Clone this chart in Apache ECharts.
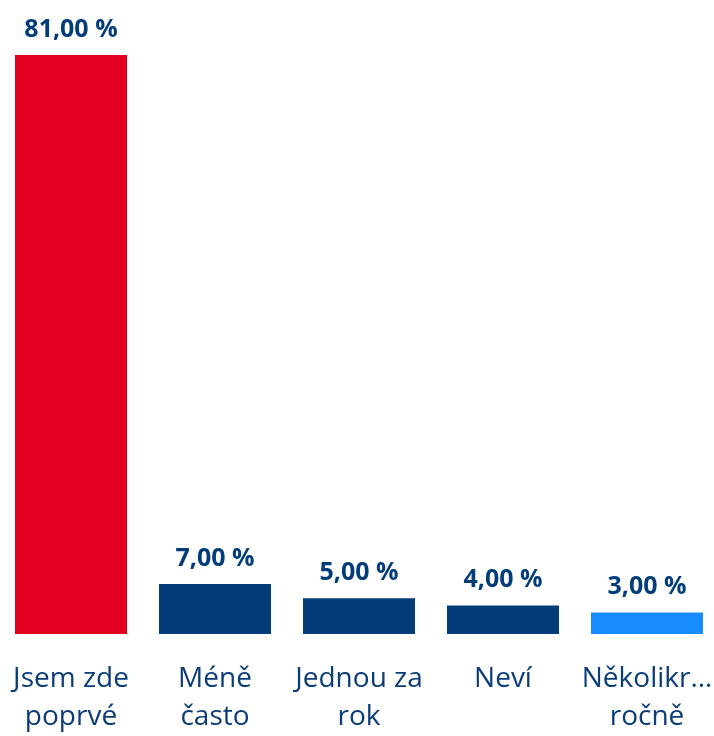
<!DOCTYPE html>
<html>
<head>
<meta charset="utf-8">
<script src="https://cdn.jsdelivr.net/npm/echarts@6/dist/echarts.min.js"></script>
<style>
  html, body { margin: 0; padding: 0; background: #fff; overflow: hidden; }
  #chart { width: 720px; height: 736px; margin-left: -1px; }
</style>
</head>
<body>
<div id="chart"></div>
<script>
const categories = ['Jsem zde\npoprvé', 'Méně\nčasto', 'Jednou za\nrok', 'Neví', 'Několikr…\nročně'];
const values = [81, 7, 5, 4, 3];
const barColors = ['#E3001E', '#023D7A', '#023D7A', '#023D7A', '#168CFF'];

const chart = echarts.init(document.getElementById('chart'));

const option = {
  animation: false,
  grid: {
    left: 0,
    right: 0,
    top: 55,
    bottom: 101,
    containLabel: false,
  },
  xAxis: {
    type: 'category',
    data: categories,
    axisLine: { show: false },
    axisTick: { show: false },
    axisLabel: {
      interval: 0,
      margin: 26,
      color: '#0B3D78',
      fontFamily: 'Open Sans',
      fontSize: 28,
      lineHeight: 38,
    },
  },
  yAxis: {
    type: 'value',
    min: 0,
    max: 81,
    show: false,
    splitLine: { show: false },
  },
  series: [
    {
      type: 'bar',
      barWidth: 112,
      data: values.map((v, i) => ({ value: v, itemStyle: { color: barColors[i] } })),
      label: {
        show: true,
        position: 'top',
        distance: 13,
        color: '#023D7A',
        fontFamily: 'Open Sans',
        fontWeight: 'bold',
        fontSize: 25,
        formatter: (p) => p.value.toFixed(2).replace('.', ',') + ' %',
      },
    },
  ],
};

chart.setOption(option);
</script>
</body>
</html>
